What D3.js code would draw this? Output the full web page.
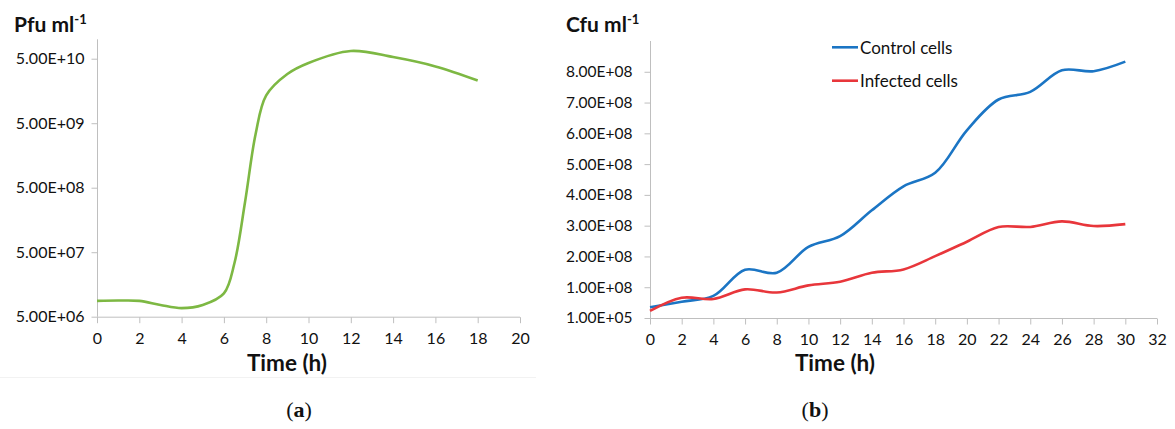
<!DOCTYPE html>
<html>
<head>
<meta charset="utf-8">
<script src="https://cdn.jsdelivr.net/npm/d3@7"></script>
<style>
  body { margin: 0; background: #fff; }
  svg { display: block; }
  text { font-family: Lato, "Open Sans", sans-serif; fill: #111; }
</style>
</head>
<body>
<script>
// (a) phage titre over time
var timeA = [0, 1, 2, 3, 4, 5, 6, 6.5, 7, 7.5, 8, 9, 10, 12, 14, 16, 18];
var pfu = [8.8e6, 8.9e6, 8.8e6, 7.6e6, 6.8e6, 7.6e6, 1.15e7, 3.4e7, 3.0e8, 3.4e9, 1.35e10, 2.9e10, 4.3e10, 6.6e10, 5.3e10, 3.8e10, 2.3e10];
var pfuTicks = [5e6, 5e7, 5e8, 5e9, 5e10];
var xTicksA = d3.range(0, 21, 2);

// (b) cell counts over time
var timeB = [0, 2, 4, 6, 8, 10, 12, 14, 16, 18, 20, 22, 24, 26, 28, 30];
var control = [3.5e7, 5.3e7, 7.2e7, 1.57e8, 1.47e8, 2.31e8, 2.66e8, 3.5e8, 4.28e8, 4.72e8, 6.1e8, 7.1e8, 7.35e8, 8.05e8, 8.02e8, 8.33e8];
var infected = [2.3e7, 6.6e7, 6.2e7, 9.3e7, 8.3e7, 1.06e8, 1.18e8, 1.47e8, 1.58e8, 2.01e8, 2.48e8, 2.96e8, 2.96e8, 3.14e8, 2.99e8, 3.05e8];
var cfuTicks = d3.range(0, 9).map(function(k) { return 1e5 + k * 1e8; });
var xTicksB = d3.range(0, 33, 2);
var seriesNames = ["Control cells", "Infected cells"];
var seriesColors = ["#1b75c4", "#e8363b"];

var axisColor = "#bfbfbf";

function fmtE(v) {
  var e = Math.floor(Math.log10(v) + 1e-9);
  var m = v / Math.pow(10, e);
  return m.toFixed(2) + "E+" + (e < 10 ? "0" + e : e);
}

var svg = d3.select("body").append("svg")
    .attr("width", 1175)
    .attr("height", 429);

svg.append("rect").attr("width", 1175).attr("height", 429).attr("fill", "#fff");

// faint chart-area border under panel (a)
svg.append("line")
    .attr("x1", 0).attr("x2", 536).attr("y1", 377.5).attr("y2", 377.5)
    .style("stroke", "#f2f2f2");

function styleAxis(g, fontSize) {
  g.select(".domain").remove();
  g.selectAll(".tick line").style("stroke", axisColor);
  g.selectAll(".tick text")
      .style("font-family", "Lato, sans-serif")
      .style("font-size", fontSize + "px")
      .style("fill", "#111");
}

function yTitle(x, main) {
  var t = svg.append("text")
      .attr("x", x).attr("y", 31.7)
      .style("font-weight", "bold")
      .style("font-size", "21px")
      .text(main);
  t.append("tspan").attr("dy", -8).style("font-size", "13px").text("-1");
}

// ---------- panel (a) ----------
var xA = d3.scaleLinear().domain([0, 20]).range([97, 520]);
var yA = d3.scaleLog().domain([5e6, 1e11]).range([316.7, 39.3]);

svg.append("line")
    .attr("x1", xA(0) + 0.5).attr("x2", xA(0) + 0.5)
    .attr("y1", yA.range()[1]).attr("y2", yA(5e6))
    .style("stroke", axisColor);
svg.append("line")
    .attr("x1", xA(0)).attr("x2", xA(20))
    .attr("y1", yA(5e6) + 0.5).attr("y2", yA(5e6) + 0.5)
    .style("stroke", axisColor);

svg.append("g")
    .attr("transform", "translate(" + (xA(0) + 0.5) + ",0)")
    .call(d3.axisLeft(yA).tickValues(pfuTicks).tickFormat(fmtE).tickSize(6).tickPadding(7))
    .call(styleAxis, 16);

svg.append("g")
    .attr("transform", "translate(0," + (yA(5e6) + 0.5) + ")")
    .call(d3.axisBottom(xA).tickValues(xTicksA).tickSize(6).tickPadding(9))
    .call(styleAxis, 16);

svg.append("path")
    .datum(d3.zip(timeA, pfu))
    .attr("fill", "none")
    .attr("stroke", "#7db843")
    .attr("stroke-width", 2.6)
    .attr("d", d3.line()
        .x(function(d) { return xA(d[0]); })
        .y(function(d) { return yA(d[1]); })
        .curve(d3.curveCatmullRom));

yTitle(14, "Pfu ml");

svg.append("text")
    .attr("x", 287).attr("y", 371)
    .attr("text-anchor", "middle")
    .style("font-weight", "bold").style("font-size", "22.5px")
    .text("Time (h)");

// ---------- panel (b) ----------
var xB = d3.scaleLinear().domain([0, 32]).range([650, 1157]);
var yB = d3.scaleLinear().domain([1e5, 9.001e8]).range([318, 41]);

svg.append("line")
    .attr("x1", xB(0) + 0.5).attr("x2", xB(0) + 0.5)
    .attr("y1", yB.range()[1]).attr("y2", yB(1e5))
    .style("stroke", axisColor);
svg.append("line")
    .attr("x1", xB(0)).attr("x2", xB(32))
    .attr("y1", yB(1e5) + 0.5).attr("y2", yB(1e5) + 0.5)
    .style("stroke", axisColor);

svg.append("g")
    .attr("transform", "translate(" + (xB(0) + 0.5) + ",0)")
    .call(d3.axisLeft(yB).tickValues(cfuTicks).tickFormat(fmtE).tickSize(6).tickPadding(12))
    .call(styleAxis, 15.5);

svg.append("g")
    .attr("transform", "translate(0," + (yB(1e5) + 0.5) + ")")
    .call(d3.axisBottom(xB).tickValues(xTicksB).tickSize(6).tickPadding(9))
    .call(styleAxis, 16);

var lineB = d3.line()
    .x(function(d) { return xB(d[0]); })
    .y(function(d) { return yB(d[1]); })
    .curve(d3.curveCatmullRom);

[control, infected].forEach(function(vals, i) {
  svg.append("path")
      .datum(d3.zip(timeB, vals))
      .attr("fill", "none")
      .attr("stroke", seriesColors[i])
      .attr("stroke-width", 2.6)
      .attr("d", lineB);
});

// legend
var legendY = [47.3, 80.7];
seriesNames.forEach(function(name, i) {
  svg.append("line")
      .attr("x1", 832).attr("x2", 858)
      .attr("y1", legendY[i]).attr("y2", legendY[i])
      .style("stroke", seriesColors[i]).style("stroke-width", 2.6);
  svg.append("text")
      .attr("x", 860).attr("y", legendY[i])
      .attr("dominant-baseline", "central")
      .style("font-size", "17px")
      .text(name);
});

yTitle(566, "Cfu ml");

svg.append("text")
    .attr("x", 835).attr("y", 371)
    .attr("text-anchor", "middle")
    .style("font-weight", "bold").style("font-size", "22.5px")
    .text("Time (h)");

// captions
[["a", 299], ["b", 815]].forEach(function(c) {
  var t = svg.append("text")
      .attr("x", c[1]).attr("y", 417)
      .attr("text-anchor", "middle")
      .style("font-family", "'Liberation Serif', serif")
      .style("font-size", "22px");
  t.append("tspan").text("(");
  t.append("tspan").style("font-weight", "bold").text(c[0]);
  t.append("tspan").text(")");
});
</script>
</body>
</html>
